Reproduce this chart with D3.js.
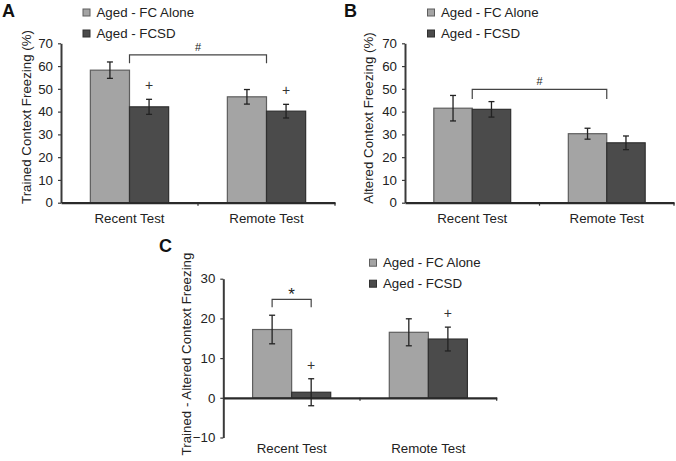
<!DOCTYPE html>
<html>
<head>
<meta charset="utf-8">
<script src="https://cdn.jsdelivr.net/npm/d3@7"></script>
<style>
  html, body { margin: 0; padding: 0; background: #fff; }
  svg { display: block; font-family: "Liberation Sans", Arial, sans-serif; }
</style>
</head>
<body>
<svg id="chart" width="676" height="461"></svg>
<script>
// ---- data ----
const categories = ["Recent Test", "Remote Test"];
const seriesNames = ["Aged - FC Alone", "Aged - FCSD"];

const trainedFC = [58.2, 46.5];
const trainedFCErr = [3.6, 3.2];
const trainedFCSD = [42.1, 40.2];
const trainedFCSDErr = [3.3, 3.0];

const alteredFC = [41.5, 30.3];
const alteredFCErr = [5.6, 2.4];
const alteredFCSD = [41.0, 26.3];
const alteredFCSDErr = [3.4, 3.0];

const diffFC = [17.2, 16.5];
const diffFCErr = [3.6, 3.4];
const diffFCSD = [1.4, 14.8];
const diffFCSDErr = [3.4, 3.0];

const ticksAB = [0, 10, 20, 30, 40, 50, 60, 70];
const ticksC = [-10, 0, 10, 20, 30];

const plusA = [false, true, false, true]; // per bar: FC recent, FCSD recent, FC remote, FCSD remote
const plusB = [false, false, false, false];
const plusC = [false, true, false, true];

const colors = { fill: ["#a4a4a4", "#4b4b4b"], stroke: ["#5e5e5e", "#303030"] };
const FONT = 13.3;

const svg = d3.select("#chart");

function drawPanel(o) {
  const g = svg.append("g");
  const x0 = d3.scaleBand().domain(categories).range([o.x0, o.x1]).padding(0);
  const x1 = d3.scaleBand().domain(seriesNames).range([0, x0.bandwidth()]).paddingInner(0).paddingOuter(0.75);
  const y = d3.scaleLinear().domain(o.domain).range([o.yBottom, o.yTop]);

  const rows = [];
  categories.forEach((c, i) => {
    rows.push({ c, s: seriesNames[0], v: o.fc[i], e: o.fcErr[i], k: 0 });
    rows.push({ c, s: seriesNames[1], v: o.fcsd[i], e: o.fcsdErr[i], k: 1 });
  });

  // y axis
  const yAxis = d3.axisLeft(y).tickValues(o.ticks).tickSize(3).tickPadding(5).tickSizeOuter(0);
  const ya = g.append("g").attr("transform", `translate(${o.x0},0)`).call(yAxis);
  ya.select(".domain").attr("stroke", "#3a3a3a").attr("stroke-width", 2);
  ya.selectAll(".tick line").attr("stroke", "#3a3a3a").attr("stroke-width", 1.2);
  ya.selectAll(".tick text").attr("font-size", FONT).attr("fill", "#222")
    .attr("font-family", "Liberation Sans, Arial, sans-serif");

  // bars
  g.selectAll("rect.bar").data(rows).join("rect")
    .attr("x", d => x0(d.c) + x1(d.s))
    .attr("width", x1.bandwidth())
    .attr("y", d => y(Math.max(0, d.v)))
    .attr("height", d => Math.abs(y(d.v) - y(0)))
    .attr("fill", d => colors.fill[d.k])
    .attr("stroke", d => colors.stroke[d.k])
    .attr("stroke-width", 1.2);

  // x axis line at zero
  const xAxis = d3.axisBottom(x0).tickSize(0).tickFormat("");
  const xa = g.append("g").attr("transform", `translate(0,${y(0)})`).call(xAxis);
  xa.select(".domain").attr("stroke", "#2a2a2a").attr("stroke-width", 2.2);
  // boundary tick marks
  const bounds = [o.x0 + x0.step(), o.x1];
  xa.selectAll("line.bt").data(bounds).join("line")
    .attr("x1", d => d).attr("x2", d => d).attr("y1", 0).attr("y2", 3)
    .attr("stroke", "#2a2a2a").attr("stroke-width", 1.2);

  // category labels
  g.selectAll("text.cat").data(categories).join("text")
    .attr("x", d => x0(d) + x0.bandwidth() / 2)
    .attr("y", o.catY)
    .attr("text-anchor", "middle")
    .attr("font-size", FONT).attr("fill", "#222")
    .text(d => d);

  // error bars
  const eb = g.selectAll("g.eb").data(rows).join("g");
  const cx = d => x0(d.c) + x1(d.s) + x1.bandwidth() / 2;
  eb.append("line").attr("x1", cx).attr("x2", cx)
    .attr("y1", d => y(d.v + d.e)).attr("y2", d => y(d.v - d.e))
    .attr("stroke", "#222").attr("stroke-width", 1.3);
  [1, -1].forEach(sgn => {
    eb.append("line").attr("x1", d => cx(d) - 3).attr("x2", d => cx(d) + 3)
      .attr("y1", d => y(d.v + sgn * d.e)).attr("y2", d => y(d.v + sgn * d.e))
      .attr("stroke", "#222").attr("stroke-width", 1.3);
  });

  // plus markers
  g.selectAll("text.plus").data(rows.filter((d, i) => o.plus[i])).join("text")
    .attr("x", cx)
    .attr("y", d => y(d.v + d.e) - 14)
    .attr("dy", "0.35em")
    .attr("text-anchor", "middle")
    .attr("font-size", 14).attr("fill", "#333")
    .text("+");

  // bracket
  const bx1 = o.bracket.from(x0, x1), bx2 = o.bracket.to(x0, x1);
  const by = y(o.bracket.level), byl = y(o.bracket.leg);
  g.append("path")
    .attr("d", `M${bx1},${byl}V${by}H${bx2}V${byl}`)
    .attr("fill", "none").attr("stroke", "#444").attr("stroke-width", 1.2);
  g.append("text")
    .attr("x", (bx1 + bx2) / 2).attr("y", by - o.bracket.gap).attr("dy", "0.35em")
    .attr("text-anchor", "middle").attr("font-size", o.bracket.size).attr("fill", "#222")
    .text(o.bracket.label);

  // y title
  g.append("text")
    .attr("transform", `translate(${o.titleX},${o.titleY}) rotate(-90)`)
    .attr("text-anchor", "middle")
    .attr("font-size", FONT).attr("fill", "#222")
    .text(o.title);

  // legend
  const lg = g.selectAll("g.lg").data(seriesNames).join("g")
    .attr("transform", (d, i) => `translate(${o.legX},${o.legY + i * 21})`);
  lg.append("rect").attr("x", 0.5).attr("y", -3.5).attr("width", 7).attr("height", 7)
    .attr("fill", (d, i) => colors.fill[i]).attr("stroke", (d, i) => colors.stroke[i]).attr("stroke-width", 1);
  lg.append("text").attr("x", 14).attr("y", 0).attr("dy", "0.35em")
    .attr("font-size", FONT).attr("fill", "#222").text(d => d);

  // panel letter
  g.append("text").attr("x", o.letterX).attr("y", o.letterY)
    .attr("font-size", 18).attr("font-weight", "bold").attr("fill", "#111").text(o.letter);
}

const groupCenter = i => (x0, x1) => x0(categories[i]) + x0.bandwidth() / 2;
const barCenter = (i, k) => (x0, x1) => x0(categories[i]) + x1(seriesNames[k]) + x1.bandwidth() / 2;

drawPanel({
  letter: "A", letterX: 2, letterY: 17,
  x0: 61, x1: 335, yTop: 43.3, yBottom: 202.7, domain: [0, 70], ticks: ticksAB,
  fc: trainedFC, fcErr: trainedFCErr, fcsd: trainedFCSD, fcsdErr: trainedFCSDErr,
  plus: plusA, catY: 223.3,
  bracket: { from: groupCenter(0), to: groupCenter(1), level: 64.9, leg: 61.2, label: "#", size: 11, gap: 8 },
  title: "Trained Context Freezing (%)", titleX: 31, titleY: 117,
  legX: 82.5, legY: 12.5
});

drawPanel({
  letter: "B", letterX: 344, letterY: 17,
  x0: 405, x1: 674, yTop: 43.3, yBottom: 202.7, domain: [0, 70], ticks: ticksAB,
  fc: alteredFC, fcErr: alteredFCErr, fcsd: alteredFCSD, fcsdErr: alteredFCSDErr,
  plus: plusB, catY: 223.3,
  bracket: { from: groupCenter(0), to: groupCenter(1), level: 49.8, leg: 45.5, label: "#", size: 11, gap: 8 },
  title: "Altered Context Freezing (%)", titleX: 372.5, titleY: 118,
  legX: 427, legY: 12.5
});

drawPanel({
  letter: "C", letterX: 159, letterY: 252,
  x0: 223.3, x1: 496.7, yTop: 278.7, yBottom: 437.5, domain: [-10, 30], ticks: ticksC,
  fc: diffFC, fcErr: diffFCErr, fcsd: diffFCSD, fcsdErr: diffFCSDErr,
  plus: plusC, catY: 453.3,
  bracket: { from: barCenter(0, 0), to: barCenter(0, 1), level: 24.8, leg: 22.8, label: "*", size: 17, gap: 5 },
  title: "Trained - Altered Context Freezing", titleX: 191, titleY: 354,
  legX: 369, legY: 262.7
});
</script>
</body>
</html>
